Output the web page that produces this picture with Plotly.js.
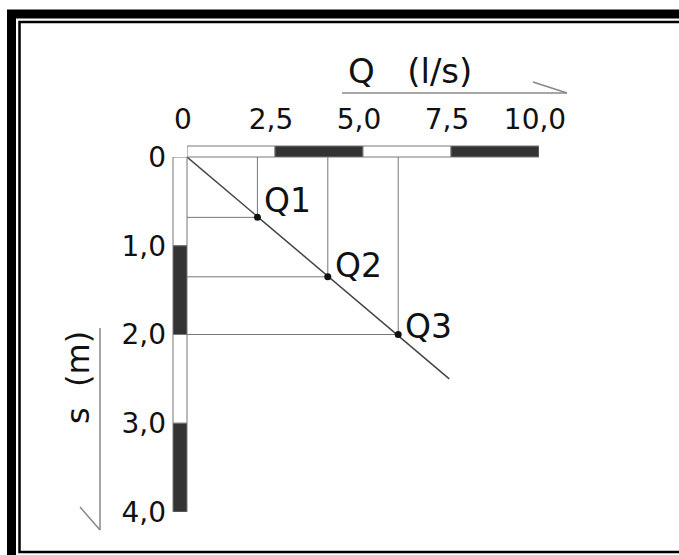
<!DOCTYPE html>
<html>
<head>
<meta charset="utf-8">
<script src="https://cdn.plot.ly/plotly-3.0.1.min.js"></script>
<style>
    body {margin: 0; background: #fff;}
    #graph {width: 679px; height: 555px;}
</style>
</head>
<body>
<div id="graph"></div>
<script>
// pumping test points: discharge Q (l/s) against drawdown s (m)
const pointNames = ['Q1', 'Q2', 'Q3'];
const discharge = [2.0, 4.0, 6.0];
const drawdown = [0.68, 1.35, 2.0];

// straight line through the points, from origin to its end
const lineQ = [0, 7.45];
const lineS = [0, 2.5];

const qTicks = [0, 2.5, 5, 7.5, 10];
const qTickText = ['0', '2,5', '5,0', '7,5', '10,0'];
const sTicks = [0, 1, 2, 3, 4];
const sTickText = ['0', '1,0', '2,0', '3,0', '4,0'];

// plot area in page pixels
const L = 187, R = 539, T = 157, B = 512;
const W = 679, H = 555;
const px = p => (p - L) / (R - L);
const py = p => (B - p) / (B - T);

const font = 'DejaVu Sans, Arial, sans-serif';
const ink = '#111';

function guideLines() {
    let x = [], y = [];
    for (let i = 0; i < discharge.length; i++) {
        x.push(0, discharge[i], null, discharge[i], discharge[i], null);
        y.push(drawdown[i], drawdown[i], null, 0, drawdown[i], null);
    }
    return {
        type: 'scatter', mode: 'lines', x: x, y: y,
        line: {color: '#777', width: 1},
        hoverinfo: 'skip', showlegend: false
    };
}

function scaleBar(ticks, horizontal) {
    let shapes = [];
    for (let i = 0; i < ticks.length - 1; i++) {
        let fill = i % 2 === 1 ? '#333' : '#fff';
        if (horizontal) {
            shapes.push({
                type: 'rect', xref: 'x', yref: 'paper',
                x0: ticks[i], x1: ticks[i + 1], y0: 1, y1: py(146),
                fillcolor: fill, line: {color: '#777', width: 1}
            });
        } else {
            shapes.push({
                type: 'rect', xref: 'paper', yref: 'y',
                x0: px(173), x1: 0, y0: ticks[i], y1: ticks[i + 1],
                fillcolor: fill, line: {color: '#777', width: 1}
            });
        }
    }
    return shapes;
}

function pline(x0, y0, x1, y1, color, width) {
    return {
        type: 'line', xref: 'paper', yref: 'paper',
        x0: px(x0), y0: py(y0), x1: px(x1), y1: py(y1),
        line: {color: color, width: width}
    };
}

let fitLine = {
    type: 'scatter', mode: 'lines', x: lineQ, y: lineS,
    line: {color: '#444', width: 1.5},
    hoverinfo: 'skip', showlegend: false
};

let points = {
    type: 'scatter', mode: 'markers', x: discharge, y: drawdown,
    marker: {color: '#111', size: 7},
    showlegend: false
};

let labelShift = [17, 11, 8];
let labels = pointNames.map((name, i) => ({
    x: discharge[i], y: drawdown[i], xref: 'x', yref: 'y',
    text: name, showarrow: false,
    xanchor: 'left', yanchor: 'middle',
    xshift: 5, yshift: labelShift[i],
    font: {family: font, size: 33, color: ink}
}));

labels.push({
    xref: 'paper', yref: 'paper', x: px(410), y: py(71),
    text: 'Q\u00a0\u00a0\u00a0(l/s)', showarrow: false,
    xanchor: 'center', yanchor: 'middle',
    font: {family: font, size: 34, color: ink}
});
labels.push({
    xref: 'paper', yref: 'paper', x: px(78), y: py(378),
    text: 's\u00a0\u00a0(m)', showarrow: false, textangle: -90,
    xanchor: 'center', yanchor: 'middle',
    font: {family: font, size: 32, color: ink}
});

let shapes = [].concat(
    scaleBar(qTicks, true),
    scaleBar(sTicks, false),
    [
        // arrows beside the axis titles
        pline(342, 93, 567, 93, '#888', 1.5),
        pline(533, 82, 567, 93, '#888', 1.5),
        pline(100, 328, 100, 530, '#888', 1.5),
        pline(80, 507, 100, 530, '#888', 1.5),
        // page frame
        {type: 'rect', xref: 'paper', yref: 'paper',
            x0: px(11.5), y0: py(14), x1: px(W + 30), y1: py(H + 30),
            line: {color: '#000', width: 9}},
        {type: 'rect', xref: 'paper', yref: 'paper',
            x0: px(19.5), y0: py(22), x1: px(W + 10), y1: py(552),
            line: {color: '#000', width: 2.5}}
    ]
);

let layout = {
    width: W, height: H,
    margin: {l: L, r: W - R, t: T, b: H - B, pad: 0},
    paper_bgcolor: '#fff', plot_bgcolor: '#fff',
    showlegend: false,
    font: {family: font, color: ink},
    xaxis: {
        side: 'top', range: [0, 10],
        tickmode: 'array', tickvals: qTicks, ticktext: qTickText,
        ticks: '', showgrid: false, zeroline: false, showline: false,
        tickfont: {family: font, size: 28, color: ink},
        ticklabelstandoff: 21, ticklabelshift: -4
    },
    yaxis: {
        range: [4, 0],
        tickmode: 'array', tickvals: sTicks, ticktext: sTickText,
        ticks: '', showgrid: false, zeroline: false, showline: false,
        tickfont: {family: font, size: 28, color: ink},
        ticklabelstandoff: 20
    },
    shapes: shapes,
    annotations: labels
};

Plotly.newPlot('graph', [guideLines(), fitLine, points], layout, {staticPlot: true});
</script>
</body>
</html>
